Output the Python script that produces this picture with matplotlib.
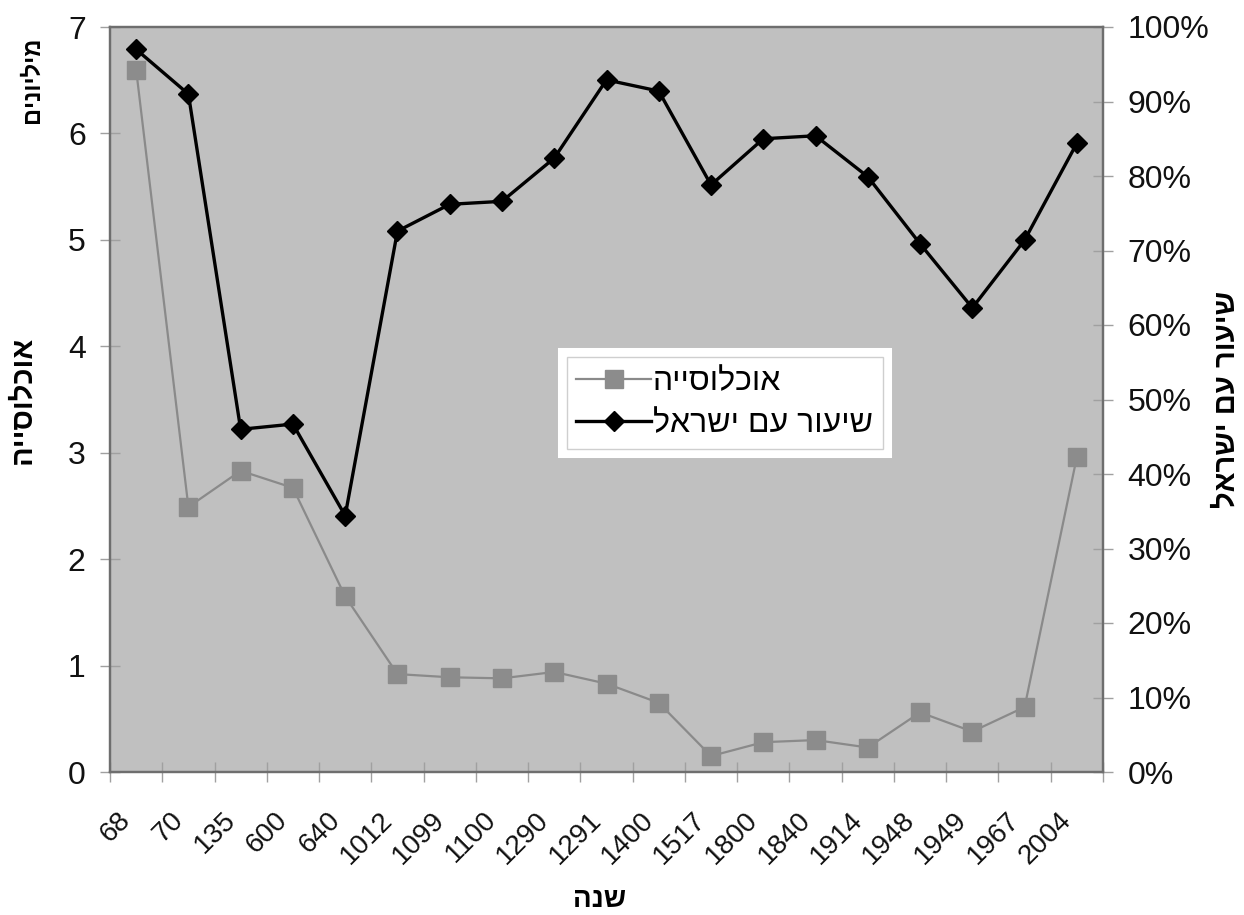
import matplotlib
matplotlib.use("Agg")
import matplotlib.pyplot as plt
import matplotlib.patheffects as pe
from matplotlib.ticker import PercentFormatter, FixedLocator
import numpy as np

plt.rcParams['font.family'] = ['Liberation Sans', 'DejaVu Sans']

# years (category axis)
years = ["68", "70", "135", "600", "640", "1012", "1099", "1100", "1290", "1291",
         "1400", "1517", "1800", "1840", "1914", "1948", "1949", "1967", "2004"]
# population, millions (left axis)
population = [6.6, 2.49, 2.83, 2.67, 1.65, 0.92, 0.89, 0.88, 0.94, 0.83,
              0.65, 0.15, 0.28, 0.30, 0.23, 0.56, 0.38, 0.61, 2.96]
# share of the Jewish people, percent (right axis)
share = [97, 91, 46, 46.7, 34.4, 72.6, 76.2, 76.6, 82.4, 92.9,
         91.4, 78.8, 85, 85.4, 79.9, 70.9, 62.3, 71.4, 84.4]

pop_label = "אוכלוסייה"
share_label = "שיעור עם ישראל"
x_title = "שנה"
left_title = "אוכלוסייה"
left_unit = "מיליונים"
right_title = "שיעור עם ישראל"


def rtl(s):
    # matplotlib has no bidi support, so draw Hebrew in visual order
    return s[::-1]


fig = plt.figure(figsize=(12.44, 9.15), dpi=100)
ax = fig.add_axes([110 / 1244, 1 - 772 / 915, (1103 - 110) / 1244, (772 - 27) / 915])
ax2 = ax.twinx()

x = np.arange(len(years))

ax.set_facecolor('#c0c0c0')
l1, = ax.plot(x, population, color='#8a8a8a', lw=1.6, marker='s', ms=13,
              markerfacecolor='#8c8c8c', markeredgecolor='#8c8c8c', zorder=3)
l2, = ax2.plot(x, share, color='black', lw=2.4, marker='D', ms=10.5,
               markerfacecolor='black', markeredgecolor='black', zorder=3)

ax.set_xlim(-0.5, len(years) - 0.5)
ax.set_ylim(0, 7)
ax2.set_ylim(0, 100)

for a in (ax, ax2):
    for sp in a.spines.values():
        sp.set_color('#6e6e6e')
        sp.set_linewidth(1.6)

# category labels centred, tick marks on the category boundaries
ax.set_xticks(x)
ax.set_xticklabels(years, rotation=45, ha='right', va='top')
ax.xaxis.set_minor_locator(FixedLocator(np.arange(len(years) + 1) - 0.5))
ax.tick_params(axis='x', which='major', length=0, pad=25, labelsize=20, colors='#111111')
ax.tick_params(axis='x', which='minor', direction='inout', length=14, width=1, color='#a0a0a0')

ax.set_yticks(range(0, 8))
ax.tick_params(axis='y', direction='inout', length=15, width=1, color='#a0a0a0',
               labelsize=23, pad=10, labelcolor='#111111')

ax2.set_yticks(range(0, 101, 10))
ax2.yaxis.set_major_formatter(PercentFormatter(decimals=0))
ax2.tick_params(axis='y', direction='inout', length=15, width=1, color='#a0a0a0',
                labelsize=23, pad=10, labelcolor='#111111')

ax.set_xlabel(rtl(x_title), fontsize=20, fontweight='bold', va='center')
ax.xaxis.set_label_coords(0.493, -0.172)
ax.set_ylabel(rtl(left_title), fontsize=21, fontweight='bold', rotation=90, va='center')
ax.yaxis.set_label_coords(-0.088, 0.5)
ax2.set_ylabel(rtl(right_title), fontsize=21, fontweight='bold', rotation=90, va='center')
ax2.yaxis.set_label_coords(1.124, 0.5)
fig.text(32 / 1244, 1 - 80 / 915, rtl(left_unit), fontsize=17, fontweight='bold',
         rotation=90, ha='center', va='center')

leg = ax2.legend([l1, l2], [rtl(pop_label), rtl(share_label)], loc='center',
                 bbox_to_anchor=(0.619, 0.495), fontsize=23, frameon=True,
                 fancybox=False, handlelength=2.35, handletextpad=0.05,
                 borderpad=0.3, labelspacing=0.4)
frame = leg.get_frame()
frame.set_facecolor('white')
frame.set_edgecolor('#cfcfcf')
frame.set_linewidth(1)
frame.set_alpha(1)
frame.set_path_effects([pe.withStroke(linewidth=13, foreground='white')])
leg.set_zorder(10)

fig.savefig("out.png", dpi=100, facecolor='white')
